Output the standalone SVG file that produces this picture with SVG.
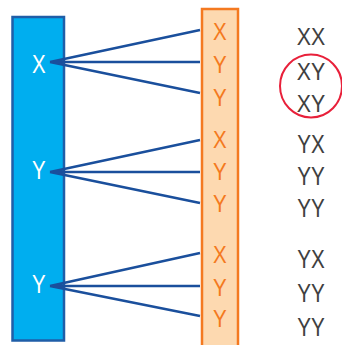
<svg xmlns="http://www.w3.org/2000/svg" width="342" height="345" viewBox="0 0 342 345">
<style>
.lt{font-family:"Liberation Sans",Arial,sans-serif;text-anchor:middle}
.w{fill:#ffffff;font-size:25px}
.o{fill:#f47920;font-size:24.5px}
.g{fill:#404040;font-size:24.5px}
.g2{fill:#404040;font-size:26.5px}
.c{stroke:#1a4f9c;stroke-width:2.5;fill:none}
</style>
<g id="parent">
<rect x="12.5" y="17" width="51.5" height="323.5" fill="#00aeef" stroke="#1f5ea8" stroke-width="2.5"/>
<g transform="scale(0.82,1)">
<text class="lt w" x="47.4" y="72.5">X</text>
<text class="lt w" x="47.4" y="179.5">Y</text>
<text class="lt w" x="47.4" y="293">Y</text>
</g>
</g>
<g id="gametes">
<rect x="202" y="9" width="36" height="340" fill="#fdd9b0" stroke="#f47920" stroke-width="2.5"/>
<g transform="scale(0.84,1)">
<text class="lt o" x="261.9" y="40">X</text>
<text class="lt o" x="261.9" y="73">Y</text>
<text class="lt o" x="261.9" y="106">Y</text>
<text class="lt o" x="261.9" y="148.5">X</text>
<text class="lt o" x="261.9" y="180">Y</text>
<text class="lt o" x="261.9" y="212.5">Y</text>
<text class="lt o" x="261.9" y="263">X</text>
<text class="lt o" x="261.9" y="296">Y</text>
<text class="lt o" x="261.9" y="327.5">Y</text>
</g>
</g>
<g id="results">
<g transform="scale(0.87,1)">
<text class="lt g" x="357.5" y="45">XX</text>
<text class="lt g" x="357.5" y="80">XY</text>
<text class="lt g" x="357.5" y="112">XY</text>
</g>
<g transform="scale(0.78,1)">
<text class="lt g2" x="398.7" y="153">YX</text>
<text class="lt g2" x="398.7" y="185">YY</text>
<text class="lt g2" x="398.7" y="217">YY</text>
<text class="lt g2" x="398.7" y="268">YX</text>
<text class="lt g2" x="398.7" y="302">YY</text>
<text class="lt g2" x="398.7" y="336">YY</text>
</g>
</g>
<g id="highlight">
<ellipse cx="311" cy="86" rx="31" ry="31.5" fill="none" stroke="#e8203a" stroke-width="2"/>
</g>
<g id="connectors">
<path class="c" d="M50 62L200 30M50 62L200 62M50 62L200 93"/>
<path class="c" d="M50 172L200 140M50 172L200 172M50 172L200 203"/>
<path class="c" d="M50 286L200 253M50 286L200 286M50 286L200 316"/>
</g>
</svg>
